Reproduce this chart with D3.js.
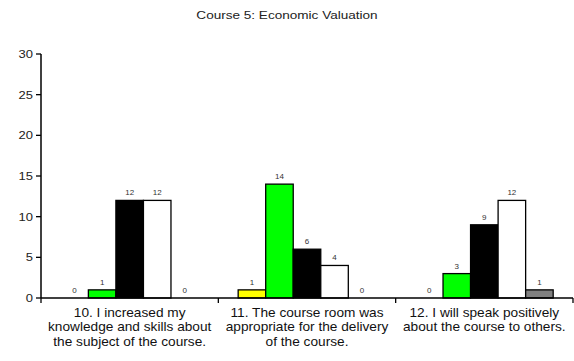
<!DOCTYPE html>
<html><head><meta charset="utf-8">
<script src="https://cdn.jsdelivr.net/npm/d3@7"></script>
<style>body{margin:0;background:#fff}svg{display:block}text{font-family:"Liberation Sans",Arial,sans-serif}</style>
</head><body>
<svg id="c" width="574" height="361"></svg>
<script>
const title = "Course 5: Economic Valuation";
const categories = [
  ["10. I increased my", "knowledge and skills about", "the subject of the course."],
  ["11. The course room was", "appropriate for the delivery", "of the course."],
  ["12. I will speak positively", "about the course to others."]
];
const seriesNames = ["s1", "s2", "s3", "s4", "s5"];
const seriesColors = ["#FFFF00", "#00FF00", "#000000", "#FFFFFF", "#808080"];
const values = [
  [0, 1, 12, 12, 0],
  [1, 14, 6, 4, 0],
  [0, 3, 9, 12, 1]
];
const yTicks = [0, 5, 10, 15, 20, 25, 30];

(function () {
const svg = d3.select("#c");
const SX = 1.18;
const mL = 41, mR = 573, mT = 54, mB = 298;

const x0 = d3.scaleBand().domain(d3.range(categories.length)).range([mL, mR]).padding(0);
const x1 = d3.scaleBand().domain(d3.range(seriesNames.length))
  .range([0, x0.bandwidth()]).paddingInner(0).paddingOuter(0.72);
const y = d3.scaleLinear().domain([0, 30]).range([mB, mT]);

function stext(g, x, yy, str, size, anchor, fill, sx) {
  return g.append("text")
    .attr("transform", `translate(${x},${yy}) scale(${sx},1)`)
    .attr("text-anchor", anchor).attr("font-size", size).attr("fill", fill).text(str);
}

// title
stext(svg, 287, 19, title, 11.5, "middle", "#222", SX);

// bars
const groups = svg.selectAll("g.grp").data(values).join("g")
  .attr("class", "grp").attr("transform", (d, i) => `translate(${x0(i)},0)`);
groups.selectAll("rect").data(d => d.map((v, j) => ({v, j})).filter(e => e.v > 0)).join("rect")
  .attr("x", d => x1(d.j)).attr("width", x1.bandwidth())
  .attr("y", d => y(d.v)).attr("height", d => y(0) - y(d.v))
  .attr("fill", d => seriesColors[d.j]).attr("stroke", "#000").attr("stroke-width", 1.3);
groups.selectAll("text.val").data(d => d.map((v, j) => ({v, j}))).join("text")
  .attr("class", "val")
  .attr("x", d => x1(d.j) + x1.bandwidth() / 2).attr("y", d => y(d.v) - 5)
  .attr("text-anchor", "middle").attr("font-size", 8).attr("fill", "#333").text(d => d.v);

// y axis
const yAxis = svg.append("g");
yAxis.append("line").attr("x1", mL).attr("x2", mL).attr("y1", mT).attr("y2", mB)
  .attr("stroke", "#000").attr("stroke-width", 1.5);
yTicks.forEach(t => {
  yAxis.append("line").attr("x1", mL - 5).attr("x2", mL).attr("y1", y(t)).attr("y2", y(t))
    .attr("stroke", "#000").attr("stroke-width", 1.3);
  stext(yAxis, 33, y(t) + 4, t, 11, "end", "#222", SX);
});

// x axis
const xAxis = svg.append("g");
xAxis.append("line").attr("x1", mL).attr("x2", mR).attr("y1", mB).attr("y2", mB)
  .attr("stroke", "#000").attr("stroke-width", 1.5);
d3.range(categories.length + 1).forEach(i => {
  const xx = i < categories.length ? x0(i) : mR;
  xAxis.append("line").attr("x1", xx).attr("x2", xx).attr("y1", mB).attr("y2", mB + 5)
    .attr("stroke", "#000").attr("stroke-width", 1.3);
});
categories.forEach((lines, i) => {
  const cx = x0(i) + x0.bandwidth() / 2;
  lines.forEach((ln, k) => stext(xAxis, cx, 317 + k * 14.3, ln, 12, "middle", "#111", 1.14));
});
})();
</script>
</body></html>
